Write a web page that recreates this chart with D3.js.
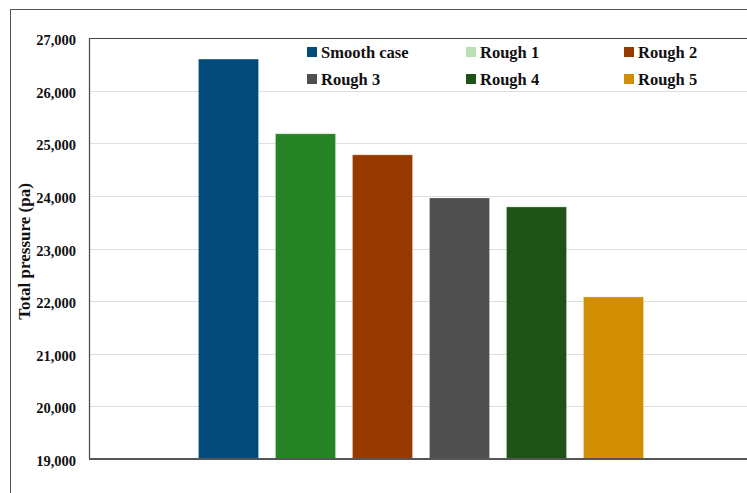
<!DOCTYPE html>
<html><head><meta charset="utf-8">
<script src="https://cdn.jsdelivr.net/npm/d3@7"></script>
<style>
html,body{margin:0;padding:0;background:#fff;}
svg{display:block;font-family:"Liberation Serif","DejaVu Serif",serif;}
</style></head>
<body><svg id="c" width="747" height="493"></svg>
<script>
const series = ["Smooth case","Rough 1","Rough 2","Rough 3","Rough 4","Rough 5"];
const values = [26600, 25180, 24780, 23960, 23790, 22080];
const barColors = ["#024a7a","#268427","#963a00","#4f4f4f","#1e5318","#d08e00"];
const legendColors = ["#024a7a","#b8e0b4","#963a00","#4f4f4f","#1e5318","#d08e00"];
const yTicks = [19000,20000,21000,22000,23000,24000,25000,26000,27000];
const categories = [""];

const svg = d3.select("#c");
const L = 89, R = 753, T = 38, B = 459;

// outer frame
svg.append("rect").attr("x",10.5).attr("y",9.5).attr("width",760).attr("height",520)
  .attr("fill","none").attr("stroke","#555").attr("stroke-width",1);

const y = d3.scaleLinear().domain([19000,27000]).range([B,T]);
const x0 = d3.scaleBand().domain(categories).range([L,R]).paddingInner(0).paddingOuter(0.2186);
const x1 = d3.scaleBand().domain(series).range([0,x0.bandwidth()]).paddingInner(0.22).paddingOuter(0.11);

// gridlines
svg.append("g").selectAll("line").data(yTicks.slice(1,-1)).join("line")
  .attr("x1",L).attr("x2",R).attr("y1",d=>Math.round(y(d))+0.5).attr("y2",d=>Math.round(y(d))+0.5)
  .attr("stroke","#dedede").attr("stroke-width",1);

// bars
const g = svg.append("g").attr("transform",`translate(${x0("")},0)`);
g.selectAll("rect").data(series).join("rect")
  .attr("x",d=>x1(d)).attr("width",x1.bandwidth())
  .attr("y",(d,i)=>y(values[i])).attr("height",(d,i)=>B-y(values[i]))
  .attr("fill",(d,i)=>barColors[i])
  .attr("stroke","rgba(255,255,255,0.35)").attr("stroke-width",0.8);

// plot frame: top and left
svg.append("line").attr("x1",L).attr("x2",R).attr("y1",T+0.5).attr("y2",T+0.5).attr("stroke","#444").attr("stroke-width",1.2);
svg.append("line").attr("x1",L+0.5).attr("x2",L+0.5).attr("y1",T).attr("y2",B).attr("stroke","#444").attr("stroke-width",1.2);

// y axis
const yAxis = d3.axisLeft(y).tickValues(yTicks).tickFormat(d3.format(",")).tickSize(0).tickPadding(13);
const ya = svg.append("g").attr("transform",`translate(${L},0)`).call(yAxis);
ya.select(".domain").remove();
ya.selectAll("text").attr("font-family","Liberation Serif, serif").attr("font-size",14.5)
  .attr("font-weight","bold").attr("fill","#111").attr("dy","0.45em");

// bottom axis
svg.append("line").attr("x1",L).attr("x2",R).attr("y1",B).attr("y2",B).attr("stroke","#555").attr("stroke-width",2);

// y title
svg.append("text").attr("transform",`translate(30,${(T+B)/2+3}) rotate(-90)`)
  .attr("text-anchor","middle").attr("font-size",17).attr("font-weight","bold").attr("fill","#111")
  .text("Total pressure (pa)");

// legend
const colX = [307,466,624], rowY = [52,79];
const lg = svg.append("g").selectAll("g").data(series).join("g")
  .attr("transform",(d,i)=>`translate(${colX[i%3]},${rowY[Math.floor(i/3)]})`);
lg.append("rect").attr("x",0).attr("y",-5).attr("width",10).attr("height",10).attr("fill",(d,i)=>legendColors[i]);
lg.append("text").attr("x",14).attr("y",0).attr("dy","0.35em").attr("font-size",16.5).attr("font-weight","bold")
  .attr("fill","#111").text(d=>d);
</script></body></html>
